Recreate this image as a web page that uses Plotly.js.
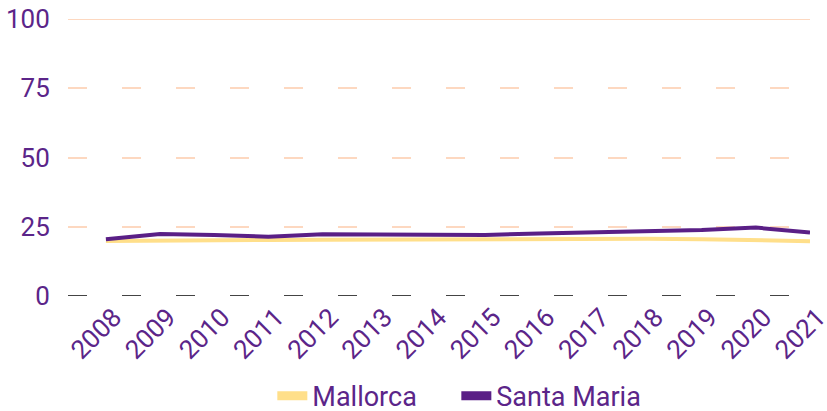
<!DOCTYPE html>
<html>
<head>
<meta charset="utf-8">
<script src="https://cdn.plot.ly/plotly-3.0.1.min.js"></script>
<style>html,body{margin:0;padding:0;background:#fff;}#chart{width:827px;height:411px;}</style>
</head>
<body>
<div id="chart"></div>
<script>
var years = ["2008","2009","2010","2011","2012","2013","2014","2015","2016","2017","2018","2019","2020","2021"];
var mallorca = [19.9, 20.1, 20.2, 20.2, 20.3, 20.4, 20.5, 20.6, 20.7, 20.8, 20.7, 20.5, 20.2, 19.8];
var santaMaria = [20.5, 22.4, 22.0, 21.4, 22.3, 22.2, 22.2, 22.0, 22.6, 23.1, 23.5, 23.8, 24.7, 22.9];
var yTicks = [0, 25, 50, 75, 100];

var purple = "#5b2589";
var cMallorca = "#ffdf8a";
var cSanta = "#5a1f86";
var traces = [
  {x: years, y: mallorca, name: "Mallorca", type: "scatter", mode: "lines",
   line: {color: cMallorca, width: 4}, showlegend: false},
  {x: years, y: santaMaria, name: "Santa Maria", type: "scatter", mode: "lines",
   line: {color: cSanta, width: 4}, showlegend: false},
  {x: [null], y: [null], name: "Mallorca", type: "scatter", mode: "lines", legend: "legend",
   line: {color: cMallorca, width: 9}, showlegend: true, hoverinfo: "skip"},
  {x: [null], y: [null], name: "Santa Maria", type: "scatter", mode: "lines", legend: "legend2",
   line: {color: cSanta, width: 9}, showlegend: true, hoverinfo: "skip"}
];
var legendBase = {orientation: "h", xref: "container", yref: "container", xanchor: "left",
  y: 0.036, yanchor: "middle", itemwidth: 30, font: {size: 27, color: purple}};
var layout = {
  width: 827, height: 411,
  margin: {l: 68, r: 17, t: 19, b: 115},
  paper_bgcolor: "#fff", plot_bgcolor: "#fff",
  font: {family: "Roboto, sans-serif", size: 26, color: purple},
  showlegend: true,
  legend: Object.assign({}, legendBase, {x: 0.3293}),
  legend2: Object.assign({}, legendBase, {x: 0.5518}),
  xaxis: {type: "category", range: [-0.7, 13], tickangle: -45, showgrid: false, automargin: false,
          zeroline: false, showline: false, ticks: "", ticklabelshift: 8,
          tickfont: {size: 26, color: purple}},
  yaxis: {range: [0, 100], tickvals: yTicks, showgrid: true, gridcolor: "#fdd8c0", automargin: false,
          gridwidth: 2, griddash: "19px,35px", zeroline: false, showline: false,
          ticks: "outside", ticklen: 12, tickcolor: "rgba(0,0,0,0)",
          tickfont: {size: 26, color: purple}},
  shapes: [
    {type: "line", xref: "paper", yref: "y", x0: 0, x1: 1, y0: 100, y1: 100,
     line: {color: "#fdd8c0", width: 2}},
    {type: "line", xref: "paper", yref: "y", x0: 0, x1: 1, y0: 0, y1: 0,
     line: {color: "#444", width: 2, dash: "19px,35px"}}
  ]
};
Plotly.newPlot("chart", traces, layout, {displayModeBar: false});
</script>
</body>
</html>
